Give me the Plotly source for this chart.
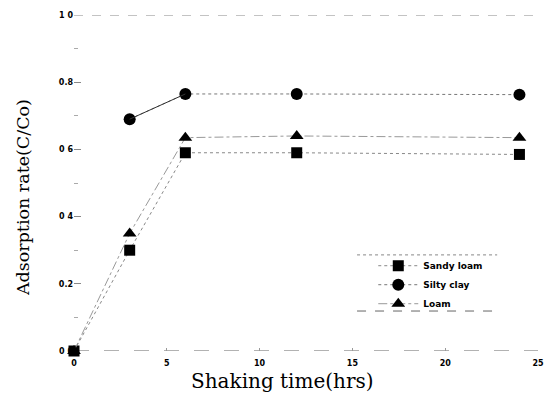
import plotly.graph_objects as go

hours = [0, 3, 6, 12, 24]
sandy_loam = [0.0, 0.30, 0.59, 0.59, 0.585]
silty_clay_hours = [3, 6, 12, 24]
silty_clay = [0.69, 0.765, 0.765, 0.763]
loam = [0.0, 0.35, 0.635, 0.64, 0.635]

x_ticks = [0, 5, 10, 15, 20, 25]
y_ticks = [0.0, 0.2, 0.4, 0.6, 0.8, 1.0]
y_tick_text = ["0 0", "0.2", "0 4", "0 6", "0.8", "1 0"]

fig = go.Figure()
fig.add_trace(go.Scatter(
    x=hours, y=sandy_loam, name="Sandy loam", mode="lines+markers", cliponaxis=False,
    line=dict(color="#888888", width=1, dash="dot"),
    marker=dict(symbol="square", size=11, color="black")))
fig.add_trace(go.Scatter(
    x=silty_clay_hours, y=silty_clay, name="Silty clay", mode="lines+markers", cliponaxis=False,
    line=dict(color="#777777", width=1, dash="dot"),
    marker=dict(symbol="circle", size=12, color="black")))
fig.add_trace(go.Scatter(
    x=hours, y=loam, name="Loam", mode="lines+markers", cliponaxis=False,
    line=dict(color="#999999", width=1, dash="dashdot"),
    marker=dict(symbol="triangle-up", size=12, color="black")))
# solid segment for silty clay 3->6
fig.add_trace(go.Scatter(
    x=silty_clay_hours[:2], y=silty_clay[:2], mode="lines", showlegend=False,
    line=dict(color="#333333", width=1), hoverinfo="skip"))

# top and bottom border lines
fig.add_shape(type="line", xref="paper", yref="y", x0=0, x1=1, y0=1.0, y1=1.0, layer="below",
              line=dict(color="#888888", width=1, dash="dash"))
fig.add_shape(type="line", xref="paper", yref="y", x0=0, x1=1, y0=0.0, y1=0.0, layer="below",
              line=dict(color="#666666", width=1.2, dash="longdash"))
# legend box top/bottom lines
fig.add_shape(type="line", xref="paper", yref="paper", x0=0.61, x1=0.912, y0=0.286, y1=0.286,
              line=dict(color="#888888", width=1, dash="dot"))
fig.add_shape(type="line", xref="paper", yref="paper", x0=0.61, x1=0.912, y0=0.119, y1=0.119,
              line=dict(color="#666666", width=1, dash="dash"))

fig.add_annotation(text="Shaking time(hrs)", xref="paper", yref="paper", x=0.45, y=-0.09,
                   xanchor="center", yanchor="middle", showarrow=False,
                   font=dict(family="DejaVu Serif", size=20, color="black"))
fig.add_annotation(text="Adsorption rate(C/Co)", xref="paper", yref="paper", x=-0.11, y=0.458,
                   xanchor="center", yanchor="middle", showarrow=False, textangle=-90,
                   font=dict(family="DejaVu Serif", size=17.5, color="black"))

fig.update_layout(
    width=547, height=394,
    margin=dict(l=74, r=9, t=15, b=43),
    paper_bgcolor="white", plot_bgcolor="white",
    showlegend=True,
    legend=dict(x=0.645, y=0.297, xanchor="left", yanchor="top",
                bgcolor="rgba(0,0,0,0)", borderwidth=0, itemwidth=40,
                font=dict(family="DejaVu Sans", size=9, color="black", weight="bold"),
                tracegroupgap=0),
    font=dict(family="DejaVu Serif", color="black"),
)
fig.update_xaxes(
    range=[0, 25], tickvals=x_ticks, ticktext=[str(v) for v in x_ticks],
    showgrid=False, zeroline=False, showline=False, automargin=False,
    ticks="inside", ticklen=3, tickcolor="#999999", ticklabelstandoff=6,
    tickfont=dict(family="DejaVu Sans", size=8, color="black", weight="bold"),
)
fig.update_yaxes(
    range=[0, 1.0], tickvals=y_ticks, ticktext=y_tick_text,
    showgrid=False, zeroline=False, showline=False, automargin=False,
    ticks="inside", ticklen=7, tickcolor="#888888",
    minor=dict(tickvals=[0.1, 0.3, 0.5, 0.7, 0.9], ticks="inside", ticklen=4, tickcolor="#aaaaaa"),
    tickfont=dict(family="DejaVu Sans", size=8, color="black", weight="bold"),
)
fig.write_html("out.html", config={"displayModeBar": False},
               post_script="document.body.style.margin='0';")
